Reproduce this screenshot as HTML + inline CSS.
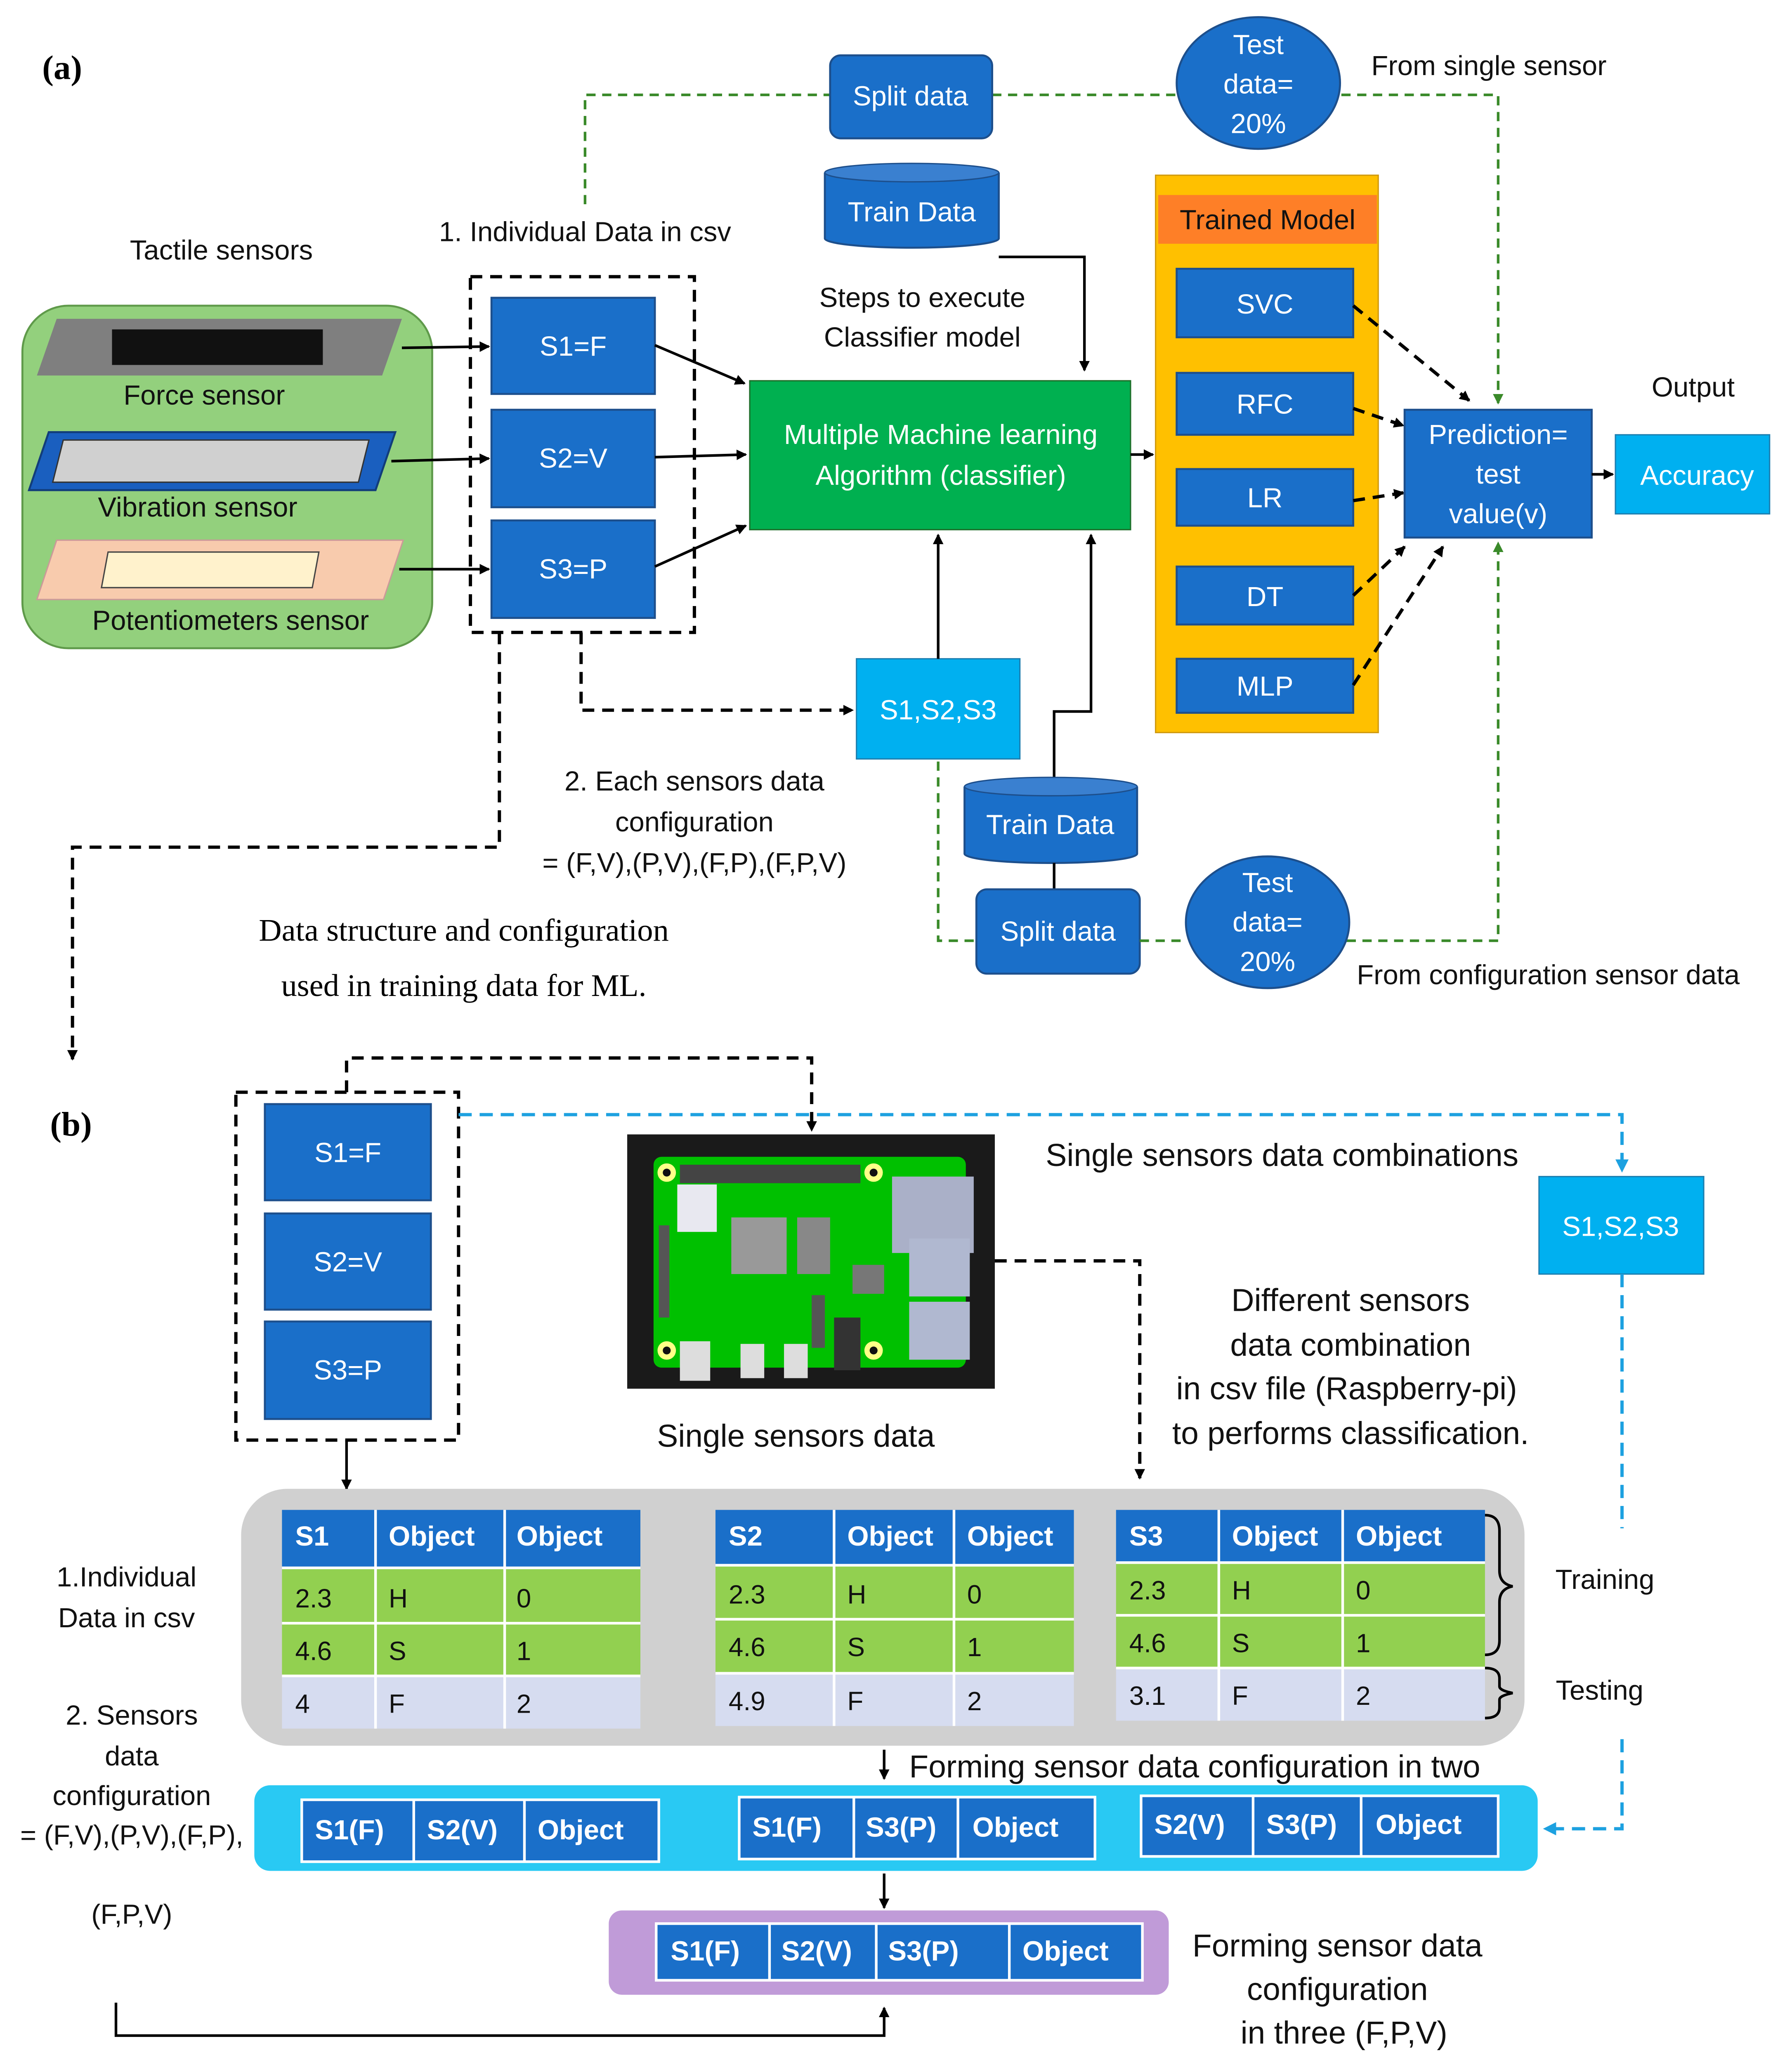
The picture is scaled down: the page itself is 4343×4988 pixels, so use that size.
<!DOCTYPE html>
<html><head><meta charset="utf-8"><style>html,body{margin:0;padding:0;background:#fff}svg{display:block}</style></head><body>
<svg width="4343" height="4988" viewBox="0 0 1360 1562" xmlns="http://www.w3.org/2000/svg" font-family="Liberation Sans, sans-serif">
<defs>
<marker id="a" markerWidth="8" markerHeight="8" refX="7" refY="4" orient="auto" markerUnits="userSpaceOnUse"><path d="M0,0 L8,4 L0,8 z" fill="#000"/></marker>
<marker id="g" markerWidth="8" markerHeight="8" refX="7" refY="4" orient="auto" markerUnits="userSpaceOnUse"><path d="M0,0 L8,4 L0,8 z" fill="#3a8a2a"/></marker>
<marker id="c" markerWidth="10" markerHeight="10" refX="9" refY="5" orient="auto" markerUnits="userSpaceOnUse"><path d="M0,0 L10,5 L0,10 z" fill="#1da1e0"/></marker>
</defs>
<style>
.b{fill:#1a6fc9;stroke:#1d4f8c;stroke-width:1.5}
.lb{fill:#00b0f0;stroke:#1d7fb0;stroke-width:1}
.w{fill:#fff;font-size:21px;text-anchor:middle}
.t{fill:#111;font-size:21px;text-anchor:middle}
.d{fill:none;stroke:#000;stroke-width:2.5;stroke-dasharray:9,6}
.gd{fill:none;stroke:#3a8a2a;stroke-width:2;stroke-dasharray:7,5}
.cd{fill:none;stroke:#1da1e0;stroke-width:2.5;stroke-dasharray:10,6}
.s{fill:none;stroke:#000;stroke-width:2}
.th{fill:#fff;font-size:21px;font-weight:bold}
.tc{fill:#111;font-size:20px}
</style>
<!-- (a) -->
<text x="32" y="60" font-family="Liberation Serif, serif" font-size="26" font-weight="bold">(a)</text>
<text x="168" y="197" class="t">Tactile sensors</text>
<rect x="17" y="232" width="311" height="260" rx="35" fill="#93d07d" stroke="#5f9a4a" stroke-width="1.5"/>
<polygon points="43,242 305,242 290,285 28,285" fill="#7f7f7f"/>
<rect x="85" y="250" width="160" height="27" fill="#111"/>
<text x="155" y="307" class="t">Force sensor</text>
<polygon points="37,328 300,328 285,372 22,372" fill="#1a5fbf" stroke="#123d7a" stroke-width="1.5"/>
<polygon points="48,334 280,334 272,366 40,366" fill="#d0d0d0" stroke="#333"/>
<text x="150" y="392" class="t">Vibration sensor</text>
<polygon points="43,410 306,410 291,455 28,455" fill="#f8cbad" stroke="#c99"/>
<polygon points="82,419 242,419 237,446 77,446" fill="#fff2cc" stroke="#444"/>
<text x="175" y="478" class="t">Potentiometers sensor</text>
<line x1="305" y1="264" x2="371" y2="263" class="s" marker-end="url(#a)"/>
<line x1="297" y1="350" x2="371" y2="348" class="s" marker-end="url(#a)"/>
<line x1="303" y1="432" x2="371" y2="432" class="s" marker-end="url(#a)"/>
<rect x="357" y="210" width="170" height="270" class="d"/>
<rect x="373" y="226" width="124" height="73" class="b"/><text x="435" y="270" class="w">S1=F</text>
<rect x="373" y="311" width="124" height="74" class="b"/><text x="435" y="355" class="w">S2=V</text>
<rect x="373" y="395" width="124" height="74" class="b"/><text x="435" y="439" class="w">S3=P</text>
<text x="444" y="183" class="t">1. Individual Data in csv</text>
<polyline points="444,155 444,72 630,72" class="gd"/>
<line x1="753" y1="72" x2="893" y2="72" class="gd"/>
<polyline points="1018,72 1137,72 1137,306" class="gd" marker-end="url(#g)"/>
<rect x="630" y="42" width="123" height="63" rx="8" class="b"/><text x="691" y="80" class="w">Split data</text>
<path d="M626,131 L626,181 A66,7 0 0 0 758,181 L758,131" class="b"/>
<ellipse cx="692" cy="131" rx="66" ry="7" fill="#3a80d0" stroke="#1d4f8c"/>
<text x="692" y="168" class="w">Train Data</text>
<polyline points="758,195 823,195 823,281" class="s" marker-end="url(#a)"/>
<ellipse cx="955" cy="63" rx="62" ry="50" class="b"/>
<text x="955" y="41" class="w">Test</text><text x="955" y="71" class="w">data=</text><text x="955" y="101" class="w">20%</text>
<text x="1130" y="57" class="t">From single sensor</text>
<text x="700" y="233" class="t">Steps to execute</text><text x="700" y="263" class="t">Classifier model</text>
<rect x="569" y="289" width="289" height="113" fill="#00b050" stroke="#1d6f2a"/>
<text x="714" y="337" class="w">Multiple Machine learning</text><text x="714" y="368" class="w">Algorithm (classifier)</text>
<line x1="497" y1="262" x2="565" y2="291" class="s" marker-end="url(#a)"/>
<line x1="497" y1="347" x2="566" y2="345" class="s" marker-end="url(#a)"/>
<line x1="497" y1="430" x2="566" y2="399" class="s" marker-end="url(#a)"/>
<line x1="858" y1="345" x2="875" y2="345" class="s" stroke-width="3" marker-end="url(#a)"/>
<rect x="877" y="133" width="169" height="423" fill="#ffc000" stroke="#d09a10"/>
<rect x="879" y="148" width="166" height="37" fill="#fe7f27"/>
<text x="962" y="174" class="t">Trained Model</text>
<rect x="893" y="204" width="134" height="52" class="b"/><text x="960" y="238" class="w">SVC</text>
<rect x="893" y="283" width="134" height="47" class="b"/><text x="960" y="314" class="w">RFC</text>
<rect x="893" y="356" width="134" height="43" class="b"/><text x="960" y="385" class="w">LR</text>
<rect x="893" y="430" width="134" height="44" class="b"/><text x="960" y="460" class="w">DT</text>
<rect x="893" y="500" width="134" height="41" class="b"/><text x="960" y="528" class="w">MLP</text>
<line x1="1027" y1="232" x2="1115" y2="304" class="d" stroke-width="2" marker-end="url(#a)"/>
<line x1="1027" y1="310" x2="1065" y2="323" class="d" stroke-width="2" marker-end="url(#a)"/>
<line x1="1027" y1="380" x2="1065" y2="374" class="d" stroke-width="2" marker-end="url(#a)"/>
<line x1="1027" y1="452" x2="1066" y2="415" class="d" stroke-width="2" marker-end="url(#a)"/>
<line x1="1027" y1="520" x2="1095" y2="415" class="d" stroke-width="2" marker-end="url(#a)"/>
<rect x="1066" y="311" width="142" height="97" class="b"/>
<text x="1137" y="337" class="w">Prediction=</text><text x="1137" y="367" class="w">test</text><text x="1137" y="397" class="w">value(v)</text>
<line x1="1208" y1="360" x2="1224" y2="360" class="s" marker-end="url(#a)"/>
<rect x="1226" y="330" width="117" height="60" class="lb"/><text x="1288" y="368" class="w">Accuracy</text>
<text x="1285" y="301" class="t">Output</text>
<rect x="650" y="500" width="124" height="76" class="lb"/><text x="712" y="546" class="w">S1,S2,S3</text>
<polyline points="441,480 441,539 647,539" class="d" marker-end="url(#a)"/>
<line x1="712" y1="500" x2="712" y2="406" class="s" stroke-width="2.5" marker-end="url(#a)"/>
<polyline points="800,590 800,540 828,540 828,406" class="s" stroke-width="2.5" marker-end="url(#a)"/>
<path d="M732,597 L732,648 A65.5,7 0 0 0 863,648 L863,597" class="b"/>
<ellipse cx="797.5" cy="597" rx="65.5" ry="7" fill="#3a80d0" stroke="#1d4f8c"/>
<text x="797" y="633" class="w">Train Data</text>
<line x1="800" y1="655" x2="800" y2="675" class="s"/>
<rect x="741" y="675" width="124" height="64" rx="8" class="b"/><text x="803" y="714" class="w">Split data</text>
<polyline points="712,578 712,714 741,714" class="gd"/>
<line x1="865" y1="714" x2="900" y2="714" class="gd"/>
<polyline points="1022,714 1137,714 1137,412" class="gd" marker-end="url(#g)"/>
<ellipse cx="962" cy="700" rx="62" ry="50" class="b"/>
<text x="962" y="677" class="w">Test</text><text x="962" y="707" class="w">data=</text><text x="962" y="737" class="w">20%</text>
<text x="1175" y="747" class="t">From configuration sensor data</text>
<text x="527" y="600" class="t">2. Each sensors data</text><text x="527" y="631" class="t">configuration</text><text x="527" y="662" class="t">= (F,V),(P,V),(F,P),(F,P,V)</text>
<polyline points="379,480 379,643 55,643 55,804" class="d" marker-end="url(#a)"/>
<text x="352" y="714" font-family="Liberation Serif, serif" font-size="24" text-anchor="middle">Data structure and configuration</text>
<text x="352" y="756" font-family="Liberation Serif, serif" font-size="24" text-anchor="middle">used in training data for ML.</text>
<!-- (b) -->
<text x="38" y="862" font-family="Liberation Serif, serif" font-size="26" font-weight="bold">(b)</text>
<rect x="179" y="829" width="169" height="264" class="d"/>
<rect x="201" y="838" width="126" height="73" class="b"/><text x="264" y="882" class="w">S1=F</text>
<rect x="201" y="921" width="126" height="73" class="b"/><text x="264" y="965" class="w">S2=V</text>
<rect x="201" y="1003" width="126" height="74" class="b"/><text x="264" y="1047" class="w">S3=P</text>
<polyline points="263,829 263,803 616,803 616,858" class="d" marker-end="url(#a)"/>
<polyline points="348,846 1231,846 1231,889" class="cd" marker-end="url(#c)"/>
<rect x="1168" y="893" width="125" height="74" class="lb"/><text x="1230" y="938" class="w">S1,S2,S3</text>
<line x1="1231" y1="967" x2="1231" y2="1160" class="cd"/>
<polyline points="1231,1320 1231,1388 1172,1388" class="cd" marker-end="url(#c)"/>
<!-- raspberry pi -->
<rect x="476" y="861" width="279" height="193" fill="#1a1a1a"/>
<rect x="496" y="878" width="237" height="160" rx="6" fill="#00c000"/>
<rect x="516" y="884" width="137" height="14" fill="#444"/>
<circle cx="506" cy="890" r="7" fill="#ff8" /><circle cx="506" cy="890" r="3" fill="#111"/>
<circle cx="663" cy="890" r="7" fill="#ff8" /><circle cx="663" cy="890" r="3" fill="#111"/>
<circle cx="506" cy="1025" r="7" fill="#ff8" /><circle cx="506" cy="1025" r="3" fill="#111"/>
<circle cx="663" cy="1025" r="7" fill="#ff8" /><circle cx="663" cy="1025" r="3" fill="#111"/>
<rect x="677" y="893" width="62" height="58" fill="#aab0c8"/>
<rect x="690" y="940" width="46" height="44" fill="#b0b8d0"/>
<rect x="690" y="988" width="46" height="44" fill="#b0b8d0"/>
<rect x="514" y="899" width="30" height="36" fill="#e8e8f0"/>
<rect x="555" y="924" width="42" height="43" fill="#999"/>
<rect x="605" y="924" width="25" height="43" fill="#888"/>
<rect x="647" y="960" width="24" height="22" fill="#777"/>
<rect x="500" y="930" width="8" height="70" fill="#555"/>
<rect x="616" y="983" width="10" height="40" fill="#555"/>
<rect x="633" y="1000" width="20" height="40" fill="#333"/>
<rect x="516" y="1018" width="23" height="30" fill="#ddd"/>
<rect x="562" y="1020" width="18" height="26" fill="#ddd"/>
<rect x="595" y="1020" width="18" height="26" fill="#ddd"/>
<polyline points="755,957 865,957 865,1122" class="d" marker-end="url(#a)"/>
<text x="973" y="885" font-size="24" text-anchor="middle" fill="#111">Single sensors data combinations</text>
<text x="1025" y="995" font-size="24" text-anchor="middle" fill="#111">Different sensors</text>
<text x="1025" y="1029" font-size="24" text-anchor="middle" fill="#111">data combination</text>
<text x="1022" y="1062" font-size="24" text-anchor="middle" fill="#111">in csv file (Raspberry-pi)</text>
<text x="1025" y="1096" font-size="24" text-anchor="middle" fill="#111">to performs classification.</text>
<text x="604" y="1098" font-size="24" text-anchor="middle" fill="#111">Single sensors data</text>
<polyline points="263,1093 263,1130" class="s" marker-end="url(#a)"/>
<rect x="183" y="1130" width="974" height="195" rx="35" fill="#d0d0d0"/>
<!-- table 1 -->
<g>
<rect x="214" y="1146" width="272" height="43" fill="#1a6fc9"/>
<rect x="214" y="1190" width="272" height="82" fill="#92d050"/>
<rect x="214" y="1272" width="272" height="40" fill="#d6dcf0"/>
<g stroke="#fff" stroke-width="2"><line x1="285" y1="1146" x2="285" y2="1312"/><line x1="383" y1="1146" x2="383" y2="1312"/><line x1="214" y1="1232" x2="486" y2="1232"/><line x1="214" y1="1272" x2="486" y2="1272"/><line x1="214" y1="1190" x2="486" y2="1190"/></g>
<text x="224" y="1173" class="th">S1</text><text x="295" y="1173" class="th">Object</text><text x="392" y="1173" class="th">Object</text>
<text x="224" y="1220" class="tc">2.3</text><text x="295" y="1220" class="tc">H</text><text x="392" y="1220" class="tc">0</text>
<text x="224" y="1260" class="tc">4.6</text><text x="295" y="1260" class="tc">S</text><text x="392" y="1260" class="tc">1</text>
<text x="224" y="1300" class="tc">4</text><text x="295" y="1300" class="tc">F</text><text x="392" y="1300" class="tc">2</text>
</g>
<g>
<rect x="543" y="1146" width="272" height="42" fill="#1a6fc9"/>
<rect x="543" y="1188" width="272" height="82" fill="#92d050"/>
<rect x="543" y="1270" width="272" height="40" fill="#d6dcf0"/>
<g stroke="#fff" stroke-width="2"><line x1="633" y1="1146" x2="633" y2="1310"/><line x1="724" y1="1146" x2="724" y2="1310"/><line x1="543" y1="1229" x2="815" y2="1229"/><line x1="543" y1="1270" x2="815" y2="1270"/><line x1="543" y1="1188" x2="815" y2="1188"/></g>
<text x="553" y="1173" class="th">S2</text><text x="643" y="1173" class="th">Object</text><text x="734" y="1173" class="th">Object</text>
<text x="553" y="1217" class="tc">2.3</text><text x="643" y="1217" class="tc">H</text><text x="734" y="1217" class="tc">0</text>
<text x="553" y="1257" class="tc">4.6</text><text x="643" y="1257" class="tc">S</text><text x="734" y="1257" class="tc">1</text>
<text x="553" y="1298" class="tc">4.9</text><text x="643" y="1298" class="tc">F</text><text x="734" y="1298" class="tc">2</text>
</g>
<g>
<rect x="847" y="1146" width="280" height="40" fill="#1a6fc9"/>
<rect x="847" y="1186" width="280" height="80" fill="#92d050"/>
<rect x="847" y="1266" width="280" height="40" fill="#d6dcf0"/>
<g stroke="#fff" stroke-width="2"><line x1="925" y1="1146" x2="925" y2="1306"/><line x1="1019" y1="1146" x2="1019" y2="1306"/><line x1="847" y1="1226" x2="1127" y2="1226"/><line x1="847" y1="1266" x2="1127" y2="1266"/><line x1="847" y1="1186" x2="1127" y2="1186"/></g>
<text x="857" y="1173" class="th">S3</text><text x="935" y="1173" class="th">Object</text><text x="1029" y="1173" class="th">Object</text>
<text x="857" y="1214" class="tc">2.3</text><text x="935" y="1214" class="tc">H</text><text x="1029" y="1214" class="tc">0</text>
<text x="857" y="1254" class="tc">4.6</text><text x="935" y="1254" class="tc">S</text><text x="1029" y="1254" class="tc">1</text>
<text x="857" y="1294" class="tc">3.1</text><text x="935" y="1294" class="tc">F</text><text x="1029" y="1294" class="tc">2</text>
</g>
<path d="M1127,1150 Q1138,1150 1138,1162 L1138,1192 Q1138,1202 1148,1204 Q1138,1206 1138,1216 L1138,1245 Q1138,1256 1127,1256" class="s"/>
<path d="M1127,1266 Q1138,1266 1138,1274 L1138,1280 Q1138,1283 1148,1285 Q1138,1287 1138,1290 L1138,1296 Q1138,1304 1127,1304" class="s"/>
<text x="1218" y="1206" class="t">Training</text>
<text x="1214" y="1290" class="t">Testing</text>
<text x="96" y="1204" class="t">1.Individual</text><text x="96" y="1235" class="t">Data in csv</text>
<text x="100" y="1309" class="t">2. Sensors</text><text x="100" y="1340" class="t">data</text><text x="100" y="1370" class="t">configuration</text><text x="100" y="1400" class="t">= (F,V),(P,V),(F,P),</text><text x="100" y="1460" class="t">(F,P,V)</text>
<line x1="671" y1="1328" x2="671" y2="1350" class="s" marker-end="url(#a)"/>
<text x="690" y="1349" font-size="24" fill="#111">Forming sensor data configuration in two</text>
<rect x="193" y="1355" width="974" height="65" rx="12" fill="#29c9f3"/>
<g>
<rect x="229" y="1366" width="271" height="47" fill="#1a6fc9" stroke="#fff" stroke-width="2"/>
<line x1="314" y1="1366" x2="314" y2="1413" stroke="#fff" stroke-width="2"/><line x1="398" y1="1366" x2="398" y2="1413" stroke="#fff" stroke-width="2"/>
<text x="239" y="1396" class="th">S1(F)</text><text x="324" y="1396" class="th">S2(V)</text><text x="408" y="1396" class="th">Object</text>
<rect x="561" y="1364" width="270" height="47" fill="#1a6fc9" stroke="#fff" stroke-width="2"/>
<line x1="648" y1="1364" x2="648" y2="1411" stroke="#fff" stroke-width="2"/><line x1="727" y1="1364" x2="727" y2="1411" stroke="#fff" stroke-width="2"/>
<text x="571" y="1394" class="th">S1(F)</text><text x="657" y="1394" class="th">S3(P)</text><text x="738" y="1394" class="th">Object</text>
<rect x="866" y="1363" width="271" height="46" fill="#1a6fc9" stroke="#fff" stroke-width="2"/>
<line x1="951" y1="1363" x2="951" y2="1409" stroke="#fff" stroke-width="2"/><line x1="1033" y1="1363" x2="1033" y2="1409" stroke="#fff" stroke-width="2"/>
<text x="876" y="1392" class="th">S2(V)</text><text x="961" y="1392" class="th">S3(P)</text><text x="1044" y="1392" class="th">Object</text>
</g>
<line x1="671" y1="1422" x2="671" y2="1448" class="s" marker-end="url(#a)"/>
<rect x="462" y="1450" width="425" height="64" rx="10" fill="#c09bd8"/>
<rect x="498" y="1460" width="369" height="43" fill="#1a6fc9" stroke="#fff" stroke-width="2"/>
<g stroke="#fff" stroke-width="2"><line x1="584" y1="1460" x2="584" y2="1503"/><line x1="665" y1="1460" x2="665" y2="1503"/><line x1="766" y1="1460" x2="766" y2="1503"/></g>
<text x="509" y="1488" class="th">S1(F)</text><text x="593" y="1488" class="th">S2(V)</text><text x="674" y="1488" class="th">S3(P)</text><text x="776" y="1488" class="th">Object</text>
<text x="1015" y="1485" font-size="24" text-anchor="middle" fill="#111">Forming sensor data</text>
<text x="1015" y="1518" font-size="24" text-anchor="middle" fill="#111">configuration</text>
<text x="1020" y="1551" font-size="24" text-anchor="middle" fill="#111">in three (F,P,V)</text>
<polyline points="88,1520 88,1545 671,1545 671,1524" class="s" marker-end="url(#a)"/>
</svg>
</body></html>
